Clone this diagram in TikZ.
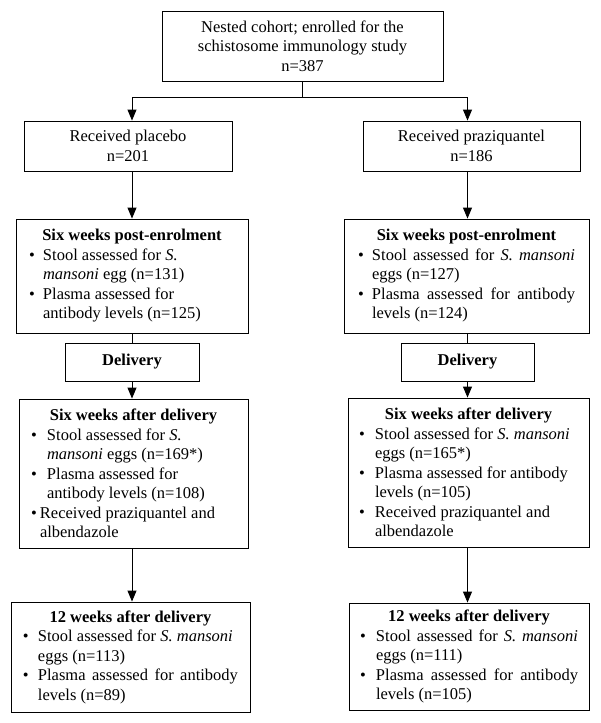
\documentclass[tikz,border=0pt]{standalone}
\usepackage{fontspec}
\setmainfont{Liberation Serif}
\usetikzlibrary{arrows.meta}

\newlength\bulw
\newcommand\itm[1]{\makebox[\bulw][l]{\textbullet}#1}
\newcommand\cont[1]{\hspace*{\bulw}#1}
\newcommand\ttl[1]{\makebox[\linewidth]{\textbf{#1}}}
\newcommand\just[1]{\makebox[\linewidth][s]{#1}}

\tikzset{
  box/.style={draw, line width=0.9pt, inner ysep=0pt, font=\fontsize{16.5}{19.5}\selectfont},
  listbox/.style={box, align=flush left},
  bw/.style={execute at begin node=\setlength\bulw{#1}},
}

\begin{document}
\begin{tikzpicture}[x=1pt, y=-1pt, >={Triangle[width=9pt,length=11pt]}, line width=0.9pt]
  \useasboundingbox (0,0) rectangle (600,723);

  \node[box, align=flush center, minimum width=281pt, minimum height=70pt] (top) at (302.5,46)
    {Nested cohort; enrolled for the\\schistosome immunology study\\n=387};

  \node[box, align=flush center, minimum width=208pt, minimum height=50pt] (plac) at (128,146)
    {Received placebo\\n=201};
  \node[box, align=flush center, minimum width=217pt, minimum height=50pt] (praz) at (471.5,146)
    {Received praziquantel\\n=186};

  % placebo arm
  \node[listbox, text width=206pt, inner xsep=13pt, minimum height=114pt, bw=14pt] (postL) at (132,276)
    {\ttl{Six weeks post-enrolment}\\
     \itm{Stool assessed for \textit{S.}}\\
     \cont{\textit{mansoni} egg (n=131)}\\
     \itm{Plasma assessed for}\\
     \cont{antibody levels (n=125)}};
  \node[box, minimum width=134pt, minimum height=38pt] (delL) at (132,362) {\textbf{Delivery}};
  \node[listbox, text width=205pt, inner xsep=12pt, minimum height=149pt, bw=16pt] (aftL) at (133.5,473.5)
    {\ttl{Six weeks after delivery}\\
     \itm{Stool assessed for \textit{S.}}\\
     \cont{\textit{mansoni} eggs (n=169*)}\\
     \itm{Plasma assessed for}\\
     \cont{antibody levels (n=108)}\\
     \setlength\bulw{9pt}\itm{Received praziquantel and}\\
     \cont{albendazole}};
  \node[listbox, text width=215pt, inner xsep=12pt, minimum height=110pt, bw=15pt] (twL) at (130.5,657)
    {\ttl{12 weeks after delivery}\\
     \itm{Stool assessed for \textit{S. mansoni}}\\
     \cont{eggs (n=113)}\\
     \just{\itm{Plasma assessed for antibody}}\\
     \cont{levels (n=89)}};

  % praziquantel arm
  \node[listbox, text width=217pt, inner xsep=14pt, minimum height=114pt, bw=14pt] (postR) at (466.5,276)
    {\ttl{Six weeks post-enrolment}\\
     \just{\itm{Stool assessed for \textit{S. mansoni}}}\\
     \cont{eggs (n=127)}\\
     \just{\itm{Plasma assessed for antibody}}\\
     \cont{levels (n=124)}};
  \node[box, minimum width=133pt, minimum height=38pt] (delR) at (467.5,362) {\textbf{Delivery}};
  \node[listbox, text width=219pt, inner xsep=11pt, minimum height=149pt, bw=16pt] (aftR) at (468.5,472.5)
    {\ttl{Six weeks after delivery}\\
     \itm{Stool assessed for \textit{S. mansoni}}\\
     \cont{eggs (n=165*)}\\
     \itm{Plasma assessed for antibody}\\
     \cont{levels (n=105)}\\
     \itm{Received praziquantel and}\\
     \cont{albendazole}};
  \node[listbox, text width=218pt, inner xsep=11pt, minimum height=107pt, bw=16pt] (twR) at (469,656.5)
    {\ttl{12 weeks after delivery}\\
     \just{\itm{Stool assessed for \textit{S. mansoni}}}\\
     \cont{eggs (n=111)}\\
     \just{\itm{Plasma assessed for antibody}}\\
     \cont{levels (n=105)}};

  % connectors
  \draw (top.south) -- ++(0,16) coordinate (split);
  \draw[->] (split) -| (postL.north |- plac.north);
  \draw[->] (split) -| (delR.north |- praz.north);
  \draw[->] (postL.north |- plac.south) -- (postL.north);
  \draw[->] (delR.north |- praz.south) -- (delR.north |- postR.north);
  \draw (postL.south) -- (delL.north);
  \draw (delR.north |- postR.south) -- (delR.north);
  \draw[->] (delL.south) -- (delL.south |- aftL.north);
  \draw[->] (delR.south) -- (delR.south |- aftR.north);
  \draw[->] (delL.south |- aftL.south) -- (delL.south |- twL.north);
  \draw[->] (delR.south |- aftR.south) -- (delR.south |- twR.north);
\end{tikzpicture}
\end{document}
